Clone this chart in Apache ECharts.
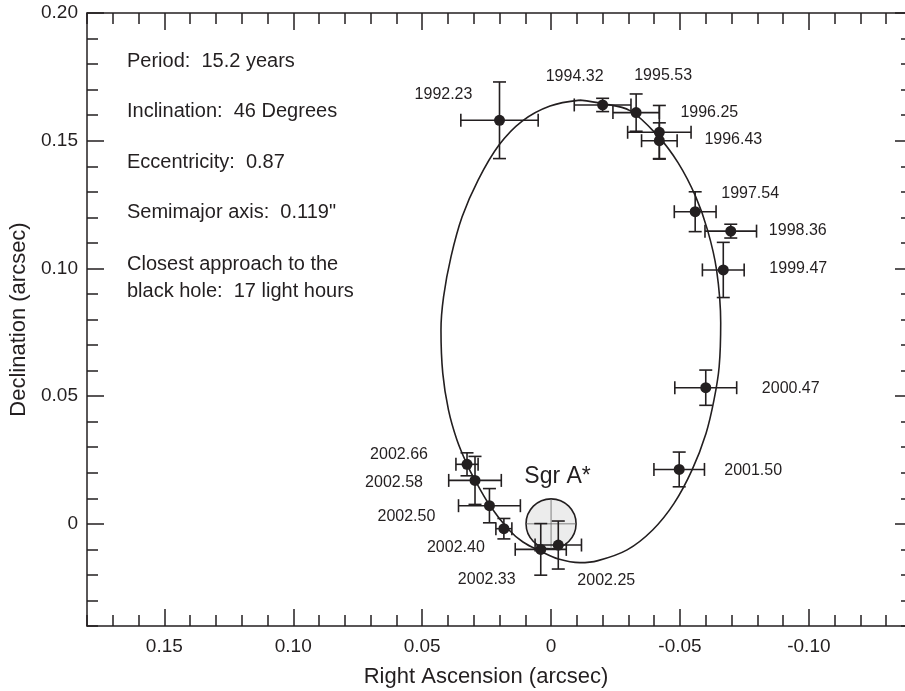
<!DOCTYPE html>
<html>
<head>
<meta charset="utf-8">
<script src="https://cdn.jsdelivr.net/npm/echarts@6/dist/echarts.min.js"></script>
<style>
  html, body { margin: 0; padding: 0; background: #fff; }
  #chart { width: 905px; height: 691px; }
</style>
</head>
<body>
<div id="chart"></div>
<script>
// measured positions of the star S2 (arcsec), with 1-sigma errors
const epochs = ["1992.23", "1994.32", "1995.53", "1996.25", "1996.43", "1997.54", "1998.36", "1999.47",
  "2000.47", "2001.50", "2002.25", "2002.33", "2002.40", "2002.50", "2002.58", "2002.66"];
const raOffset = [0.020, -0.020, -0.033, -0.042, -0.042, -0.0559, -0.0697, -0.0668,
  -0.060, -0.0497, -0.0028, 0.004, 0.0183, 0.0239, 0.0295, 0.0326];
const decOffset = [0.158, 0.164, 0.161, 0.1533, 0.150, 0.1222, 0.1146, 0.0994,
  0.0533, 0.0213, -0.0083, -0.010, -0.0019, 0.0071, 0.017, 0.0233];
const raErr = [0.015, 0.011, 0.009, 0.0123, 0.0069, 0.0081, 0.010, 0.0081,
  0.012, 0.0098, 0.009, 0.0099, 0.0031, 0.012, 0.0102, 0.0043];
const decErr = [0.015, 0.0026, 0.0073, 0.0105, 0.007, 0.0078, 0.0027, 0.0108,
  0.0069, 0.0068, 0.0094, 0.0101, 0.004, 0.0067, 0.0094, 0.0045];

// fitted orbit
const orbitRa = [-0.0112, -0.0197, -0.0306, -0.0415, -0.0493, -0.0561, -0.0607, -0.0642, -0.0658,
  -0.0652, -0.0632, -0.0601, -0.0547, -0.0477, -0.0394, -0.0295, -0.0182, -0.0112, -0.0029,
  0.0043, 0.0109, 0.0163, 0.0239, 0.0295, 0.0328, 0.0365, 0.0398, 0.0420, 0.0427, 0.0417,
  0.0388, 0.0345, 0.0283, 0.0202, 0.0112, 0.0004, -0.0112];
const orbitDec = [0.1659, 0.1646, 0.1618, 0.1518, 0.1413, 0.1281, 0.1150, 0.0994, 0.0786,
  0.0615, 0.0485, 0.0354, 0.0211, 0.0080, -0.0024, -0.0102, -0.0144, -0.0152, -0.0138,
  -0.0106, -0.0071, -0.0024, 0.0074, 0.0171, 0.0237, 0.0328, 0.0446, 0.0589, 0.0759, 0.0889,
  0.1046, 0.1202, 0.1346, 0.1483, 0.1577, 0.1636, 0.1659];

// Sgr A* position and error circle
const sgrRa = [0];
const sgrDec = [0];
const sgrRadius = [0.0097];

const majorTicksX = [-0.10, -0.05, 0, 0.05, 0.10, 0.15];
const majorTicksY = [0, 0.05, 0.10, 0.15, 0.20];

const notes = ["Period:  15.2 years", "Inclination:  46 Degrees", "Eccentricity:  0.87",
  "Semimajor axis:  0.119\"", "Closest approach to the", "black hole:  17 light hours"];

// label placement (px from the dot)
const labelOffsets = [[-56, -26], [-28, -28], [27, -37], [50, -20], [74, -1], [55, -18], [67, -1], [75, -1],
  [85, 1], [74, 1], [48, 36], [-54, 30], [-48, 19], [-83, 11], [-81, 2], [-68, -10]];
const noteY = [62, 112, 163, 213, 265, 292];

const ink = "#231f20";
const font = "Liberation Sans, Arial, Helvetica, sans-serif";

const chart = echarts.init(document.getElementById("chart"), null, { renderer: "canvas" });

function fmt(v) {
  if (Math.abs(v * 20 - Math.round(v * 20)) > 1e-6) return "";
  if (Math.abs(v) < 1e-9) return "0";
  return v.toFixed(2);
}

function minorAxis(pos, isX, showLabel) {
  return {
    type: "value",
    position: pos,
    min: isX ? -0.14 : -0.04,
    max: isX ? 0.18 : 0.20,
    interval: 0.01,
    inverse: isX,
    axisLine: { show: true, onZero: false, lineStyle: { color: ink, width: 1.5 } },
    axisTick: { show: true, inside: true, length: 11, lineStyle: { color: ink, width: 1.5 } },
    axisLabel: { show: showLabel, formatter: fmt, color: ink, fontSize: 19, fontFamily: font,
      margin: isX ? 11 : 9 },
    splitLine: { show: false }
  };
}

function majorAxis(pos, isX) {
  return {
    type: "value",
    position: pos,
    min: isX ? -0.14 : -0.04,
    max: isX ? 0.18 : 0.20,
    inverse: isX,
    axisLine: { show: false, onZero: false },
    axisTick: { show: true, inside: true, length: 17, customValues: isX ? majorTicksX : majorTicksY,
      lineStyle: { color: ink, width: 1.5 } },
    axisLabel: { show: false },
    splitLine: { show: false }
  };
}

const xBottom = minorAxis("bottom", true, true);
xBottom.name = "Right Ascension (arcsec)";
xBottom.nameLocation = "middle";
xBottom.nameGap = 40;
xBottom.nameTextStyle = { color: ink, fontSize: 22, fontFamily: font, padding: [0, 27, 0, 0] };

const yLeft = minorAxis("left", false, true);
yLeft.name = "Declination (arcsec)";
yLeft.nameLocation = "middle";
yLeft.nameGap = 51;
yLeft.nameTextStyle = { color: ink, fontSize: 22, fontFamily: font };

const points = epochs.map((e, i) => ({
  value: [raOffset[i], decOffset[i]],
  label: { offset: labelOffsets[i] }
}));
const errData = epochs.map((e, i) => [raOffset[i], decOffset[i], raErr[i], decErr[i]]);
const orbitData = orbitRa.map((x, i) => [x, orbitDec[i]]);
const sgrData = sgrRa.map((x, i) => [x, sgrDec[i], sgrRadius[i]]);

function seg(x1, y1, x2, y2, w, color) {
  return { type: "line", shape: { x1, y1, x2, y2 }, style: { stroke: color || ink, lineWidth: w || 1.6 } };
}

chart.setOption({
  animation: false,
  backgroundColor: "#fff",
  grid: { left: 87, right: -7, top: 13, bottom: 65, containLabel: false, outerBoundsMode: "none" },
  xAxis: [xBottom, majorAxis("bottom", true), minorAxis("top", true, false), majorAxis("top", true)],
  yAxis: [yLeft, majorAxis("left", false), minorAxis("right", false, false), majorAxis("right", false)],
  graphic: notes.map((t, i) => ({
    type: "text", left: 127, top: noteY[i] - 11,
    style: { text: t, fill: ink, fontSize: 20, fontFamily: font }
  })),
  series: [
    {
      type: "custom",
      z: 1,
      data: sgrData,
      encode: { x: 0, y: 1 },
      renderItem: function (params, api) {
        const c = api.coord([api.value(0), api.value(1)]);
        const r = Math.abs(api.size([api.value(2), api.value(2)])[0]);
        return {
          type: "group",
          children: [
            { type: "circle", shape: { cx: c[0], cy: c[1], r: r },
              style: { fill: "#ececec", stroke: ink, lineWidth: 1.6 } },
            seg(c[0] - r, c[1], c[0] + r, c[1], 0.8, "#666"),
            seg(c[0], c[1] - r, c[0], c[1] + r, 0.8, "#666"),
            { type: "text", x: c[0] + 6.5, y: c[1] - 47,
              style: { text: "Sgr A*", fill: ink, fontSize: 23, fontFamily: font,
                align: "center", verticalAlign: "middle" } }
          ]
        };
      }
    },
    {
      type: "line",
      z: 2,
      data: orbitData,
      showSymbol: false,
      smooth: 0.35,
      lineStyle: { color: ink, width: 1.6 }
    },
    {
      type: "custom",
      z: 3,
      data: errData,
      encode: { x: 0, y: 1 },
      renderItem: function (params, api) {
        const x = api.value(0), y = api.value(1), ex = api.value(2), ey = api.value(3);
        const c = api.coord([x, y]);
        const a = api.coord([x + ex, y]);
        const b = api.coord([x - ex, y]);
        const t = api.coord([x, y + ey]);
        const d = api.coord([x, y - ey]);
        const cap = 6.5;
        return {
          type: "group",
          children: [
            seg(a[0], c[1], b[0], c[1]),
            seg(a[0], c[1] - cap, a[0], c[1] + cap),
            seg(b[0], c[1] - cap, b[0], c[1] + cap),
            seg(c[0], t[1], c[0], d[1]),
            seg(c[0] - cap, t[1], c[0] + cap, t[1]),
            seg(c[0] - cap, d[1], c[0] + cap, d[1])
          ]
        };
      }
    },
    {
      type: "scatter",
      z: 4,
      data: points,
      symbolSize: 11,
      itemStyle: { color: ink, opacity: 1 },
      label: {
        show: true,
        position: "inside",
        formatter: p => epochs[p.dataIndex],
        color: ink,
        opacity: 1,
        textBorderWidth: 0,
        fontSize: 16,
        fontFamily: font
      }
    }
  ]
});
</script>
</body>
</html>
